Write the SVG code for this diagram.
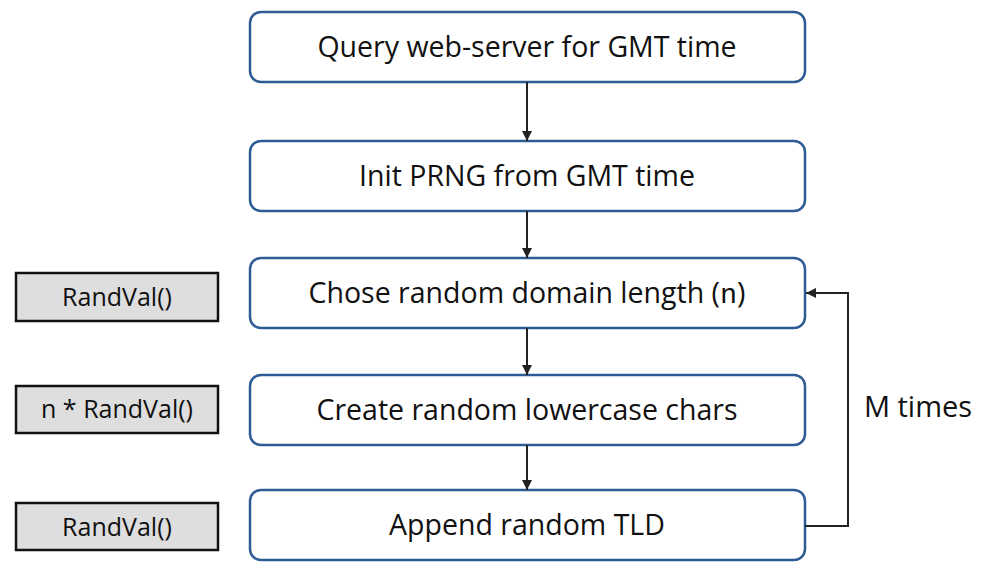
<svg xmlns="http://www.w3.org/2000/svg" width="981" height="563" viewBox="0 0 981 563">
<style>
.step rect{fill:#fff;stroke:#2e5b94;stroke-width:2.5}
.side rect{fill:#dedede;stroke:#111;stroke-width:2.5}
text{font-family:"Open Sans","Liberation Sans",sans-serif;fill:#111;text-anchor:middle}
.step text{font-size:28.5px}
.side text{font-size:25px}
.mono{font-family:"Liberation Mono","DejaVu Sans Mono",monospace}
.conn{stroke:#222;stroke-width:2;fill:none}
</style>
<defs>
<marker id="ah" viewBox="0 0 10 10" refX="10" refY="5" markerWidth="5" markerHeight="5" orient="auto"><path d="M0,0L10,5L0,10z" fill="#222"/></marker>
</defs>
<g id="n1" class="step"><rect x="250" y="12" width="555" height="70" rx="11"/><text x="527" y="57">Query web-server for GMT time</text></g>
<g id="n2" class="step"><rect x="250" y="141" width="555" height="70" rx="11"/><text x="527" y="186">Init PRNG from GMT time</text></g>
<g id="n3" class="step"><rect x="250" y="258" width="555" height="70" rx="11"/><text x="527" y="303">Chose random domain length (<tspan class="mono">n</tspan>)</text></g>
<g id="n4" class="step"><rect x="250" y="375" width="555" height="70" rx="11"/><text x="527" y="420">Create random lowercase chars</text></g>
<g id="n5" class="step"><rect x="250" y="490" width="555" height="70" rx="11"/><text x="527" y="535">Append random TLD</text></g>
<g id="s1" class="side"><rect x="16" y="273" width="202" height="48"/><text x="117" y="306">RandVal()</text></g>
<g id="s2" class="side"><rect x="16" y="386" width="202" height="47"/><text x="117" y="418">n * RandVal()</text></g>
<g id="s3" class="side"><rect x="16" y="503" width="202" height="47"/><text x="117" y="536">RandVal()</text></g>
<text id="lbl" x="918" y="417" style="font-size:29px">M times</text>
<g id="connectors">
<path class="conn" d="M527,82V141" marker-end="url(#ah)"/>
<path class="conn" d="M527,211V258" marker-end="url(#ah)"/>
<path class="conn" d="M527,328V375" marker-end="url(#ah)"/>
<path class="conn" d="M527,445V490" marker-end="url(#ah)"/>
<path class="conn" d="M805,526H848V293H806" marker-end="url(#ah)"/>
</g>
</svg>
